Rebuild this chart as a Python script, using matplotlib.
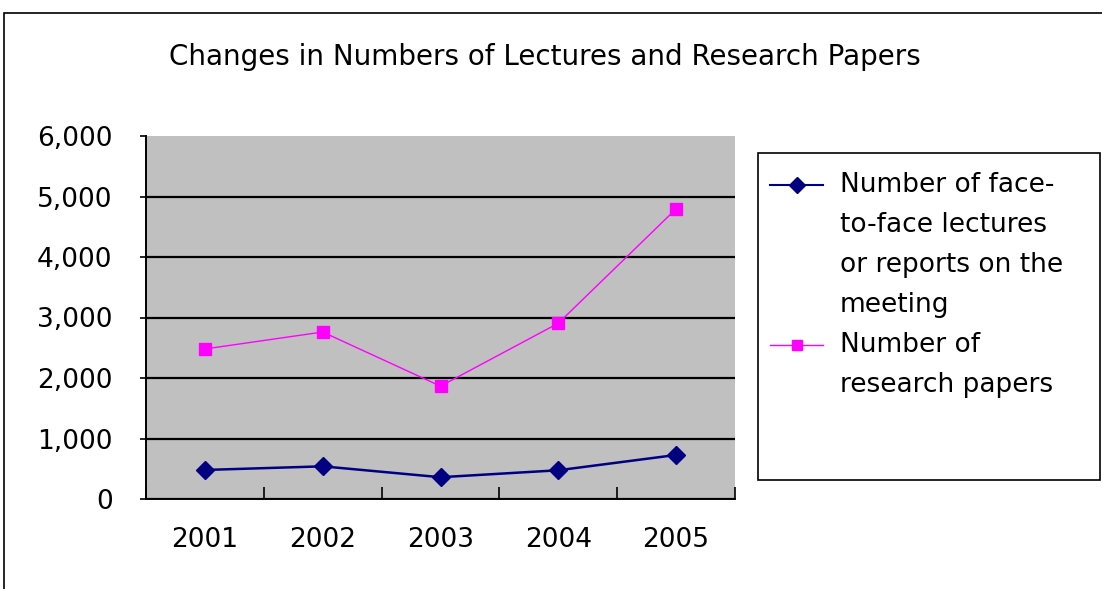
import matplotlib
matplotlib.use("Agg")
import matplotlib.pyplot as plt
from matplotlib.lines import Line2D
from matplotlib.patches import Rectangle

# data
years = ['2001', '2002', '2003', '2004', '2005']
lectures = [480, 540, 360, 475, 728]
papers = [2480, 2760, 1865, 2905, 4795]
legend_lines = [
    ['Number of face-', 'to-face lectures', 'or reports on the', 'meeting'],
    ['Number of', 'research papers'],
]
title = 'Changes in Numbers of Lectures and Research Papers'

W, H = 1102, 589
FontName = 'DejaVu Sans'
FontSize = 19
navy = '#000080'
magenta = '#FF00FF'


def fx(x):
    return x / W


def fy(y):
    return 1 - y / H


fig = plt.figure(figsize=(W / 100, H / 100), dpi=100)
fig.patch.set_facecolor('white')

# outer chart border
fig.add_artist(Rectangle((fx(4), -0.1), 1.5, fy(13) + 0.1, transform=fig.transFigure,
                         fill=False, edgecolor='black', linewidth=1.2))

ax = fig.add_axes([fx(146), fy(499), fx(735) - fx(146), fy(136) - fy(499)])
ax.set_facecolor('#C0C0C0')

xs = list(range(len(years)))
ax.plot(xs, lectures, color=navy, linewidth=1.8, marker='D', markersize=9.5,
        markerfacecolor=navy, markeredgecolor=navy)
ax.plot(xs, papers, color=magenta, linewidth=1.0, marker='s', markersize=8.5,
        markerfacecolor=magenta, markeredgecolor=magenta)

ax.set_xlim(-0.5, len(years) - 0.5)
ax.set_ylim(0, 6000)
ax.set_yticks(range(0, 6001, 1000))
ax.set_yticklabels(['{:,}'.format(v) for v in range(0, 6001, 1000)],
                   fontsize=FontSize, fontname=FontName)
ax.tick_params(axis='y', direction='out', length=4, width=1.2, pad=20)
ax.yaxis.grid(True, color='black', linewidth=1.6)
ax.set_axisbelow(True)
ax.yaxis.get_gridlines()[-1].set_visible(False)

# category boundaries get the ticks, year labels sit in between
ax.set_xticks([i - 0.5 for i in range(len(years) + 1)])
ax.set_xticklabels([])
ax.tick_params(axis='x', which='major', direction='in', length=9, width=1.2)
ax.set_xticks(xs, minor=True)
ax.set_xticklabels(years, minor=True, fontsize=FontSize, fontname=FontName)
ax.tick_params(axis='x', which='minor', length=0, pad=20)

for s in ['top', 'right']:
    ax.spines[s].set_visible(False)
for s in ['left', 'bottom']:
    ax.spines[s].set_linewidth(1.4)

fig.text(fx(545), fy(57), title, ha='center', va='center', fontsize=20, fontname=FontName)

# legend box drawn by hand so the handle sits on the first line of each entry
fig.add_artist(Rectangle((fx(758), fy(480)), fx(1100) - fx(758), fy(153) - fy(480),
                         transform=fig.transFigure, fill=True, facecolor='white',
                         edgecolor='black', linewidth=1.2))
styles = [(navy, 'D', 8, 1.5), (magenta, 's', 7.5, 1.0)]
row = 0
for lines, (col, mk, ms, lw) in zip(legend_lines, styles):
    y0 = 185 + 40 * row
    fig.add_artist(Line2D([fx(770), fx(823)], [fy(y0), fy(y0)], transform=fig.transFigure,
                          color=col, linewidth=lw))
    fig.add_artist(Line2D([fx(797)], [fy(y0)], transform=fig.transFigure, color=col,
                          marker=mk, markersize=ms, markerfacecolor=col, markeredgecolor=col))
    for ln in lines:
        fig.text(fx(840), fy(185 + 40 * row), ln, ha='left', va='center',
                 fontsize=FontSize, fontname=FontName)
        row += 1

fig.savefig('out.png', dpi=100)
